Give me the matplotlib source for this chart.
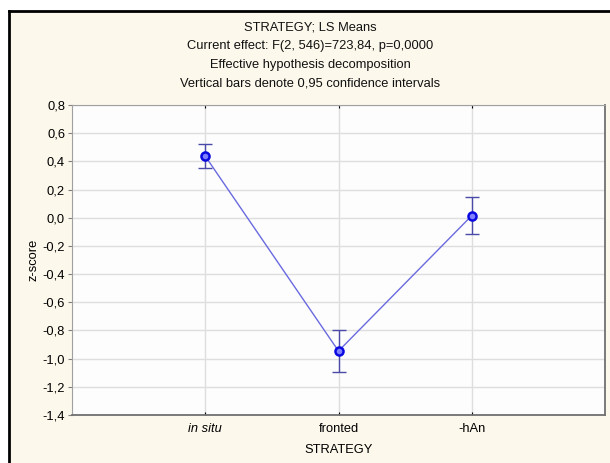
import matplotlib
matplotlib.use("Agg")
import matplotlib.pyplot as plt
from matplotlib.lines import Line2D
from matplotlib.patches import Rectangle

# LS means per strategy with 95% confidence half-widths
categories = ["in situ", "fronted", "-hAn"]
means = [0.437, -0.946, 0.015]
ci_half = [0.087, 0.150, 0.130]

title_lines = [
    "STRATEGY; LS Means",
    "Current effect: F(2, 546)=723,84, p=0,0000",
    "Effective hypothesis decomposition",
    "Vertical bars denote 0,95 confidence intervals",
]
y_ticks = [0.8, 0.6, 0.4, 0.2, 0.0, -0.2, -0.4, -0.6, -0.8, -1.0, -1.2, -1.4]

plt.rcParams["font.family"] = ["Liberation Sans", "DejaVu Sans"]
FS = 9.3
plt.rcParams["font.size"] = FS

W, H = 610, 463
fig = plt.figure(figsize=(W / 100, H / 100), dpi=100, facecolor="white")

# cream panel with black frame on left and top
cream = "#fcf8ec"
fig.patches.append(Rectangle((9 / W, 0), 1 - 9 / W, 1 - 11 / H,
                             transform=fig.transFigure, facecolor=cream,
                             edgecolor="none", zorder=-10))
fig.lines.append(Line2D([9 / W, 9 / W], [0, 1 - 11 / H], transform=fig.transFigure,
                        color="black", lw=2, zorder=-5))
fig.lines.append(Line2D([9 / W, 1], [1 - 11 / H, 1 - 11 / H], transform=fig.transFigure,
                        color="black", lw=2, zorder=-5))

# title block
title_y = [28, 46, 65, 83]
for txt, ty in zip(title_lines, title_y):
    fig.text(0.508, 1 - ty / H, txt, ha="center", va="center", fontsize=FS, color="#111111")

ax = fig.add_axes([72 / W, 1 - 415 / H, (605 - 72) / W, (415 - 105) / H], zorder=1)
ax.set_facecolor("#fdfdfd")

x = list(range(1, len(categories) + 1))
ax.plot(x, means, color="#6a6ae0", lw=1.0, zorder=3)
ax.errorbar(x, means, yerr=ci_half, fmt="none", ecolor="#4a4aa8", elinewidth=1.0,
            capsize=5, capthick=1.0, zorder=4)
ax.plot(x, means, linestyle="none", marker="o", markersize=5.8,
        markerfacecolor="#8080ff", markeredgecolor="#0a0ae0", markeredgewidth=1.8, zorder=5)

ax.set_xlim(0, 4)
ax.set_ylim(-1.4, 0.8)
ax.set_yticks(y_ticks)
ax.set_yticklabels([f"{v:.1f}".replace(".", ",").replace("-0,0", "0,0") for v in y_ticks])
ax.set_xticks(x)
ax.set_xticklabels(categories)
ax.get_xticklabels()[0].set_fontstyle("italic")

ax.grid(True, color="#dedede", lw=1.0)
ax.set_axisbelow(True)
ax.tick_params(axis="y", length=3, color="#808080", labelsize=FS, pad=2)
ax.tick_params(axis="x", length=0, labelsize=FS, pad=6)
ax.tick_params(top=True, direction="in", axis="x", length=2)

for side in ["left", "top"]:
    ax.spines[side].set_color("#a0a0a0")
for side in ["right", "bottom"]:
    ax.spines[side].set_color("#707070")
    ax.spines[side].set_linewidth(1.3)

ax.set_xlabel("STRATEGY", fontsize=FS, labelpad=6)
ax.set_ylabel("z-score", fontsize=FS, labelpad=2.5)

fig.savefig("out.png", dpi=100, facecolor=fig.get_facecolor())
